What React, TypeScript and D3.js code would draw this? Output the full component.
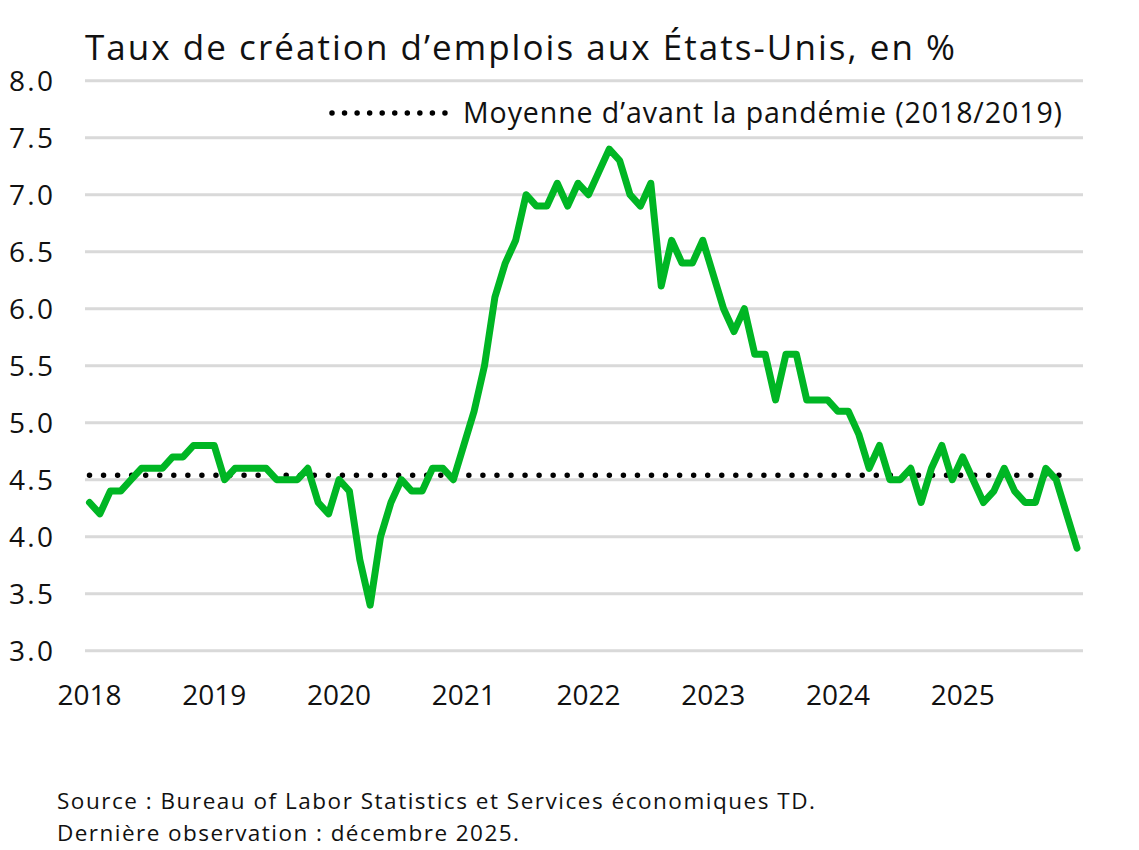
import React from "react";
import * as d3 from "d3";

const startYear = 2018;
const values: number[] = [
  // 2018
  4.3, 4.2, 4.4, 4.4, 4.5, 4.6, 4.6, 4.6, 4.7, 4.7, 4.8, 4.8,
  // 2019
  4.8, 4.5, 4.6, 4.6, 4.6, 4.6, 4.5, 4.5, 4.5, 4.6, 4.3, 4.2,
  // 2020
  4.5, 4.4, 3.8, 3.4, 4.0, 4.3, 4.5, 4.4, 4.4, 4.6, 4.6, 4.5,
  // 2021
  4.8, 5.1, 5.5, 6.1, 6.4, 6.6, 7.0, 6.9, 6.9, 7.1, 6.9, 7.1,
  // 2022
  7.0, 7.2, 7.4, 7.3, 7.0, 6.9, 7.1, 6.2, 6.6, 6.4, 6.4, 6.6,
  // 2023
  6.3, 6.0, 5.8, 6.0, 5.6, 5.6, 5.2, 5.6, 5.6, 5.2, 5.2, 5.2,
  // 2024
  5.1, 5.1, 4.9, 4.6, 4.8, 4.5, 4.5, 4.6, 4.3, 4.6, 4.8, 4.5,
  // 2025
  4.7, 4.5, 4.3, 4.4, 4.6, 4.4, 4.3, 4.3, 4.6, 4.5, 4.2, 3.9,
];
const prePandemicAverage = 4.54;
const yTicks = [3.0, 3.5, 4.0, 4.5, 5.0, 5.5, 6.0, 6.5, 7.0, 7.5, 8.0];
const yearLabels = ["2018", "2019", "2020", "2021", "2022", "2023", "2024", "2025"];

const title = "Taux de création d’emplois aux États-Unis, en %";
const legendLabel = "Moyenne d’avant la pandémie (2018/2019)";
const sourceLines = [
  "Source : Bureau of Labor Statistics et Services économiques TD.",
  "Dernière observation : décembre 2025.",
];
const sourceWidths = [758, 462];

const FONT = "'Open Sans', Lato, sans-serif";
const GREEN = "#00B624";
const TEXT = "#111";

export default function App() {
  const W = 1139;
  const H = 850;
  const x = d3.scaleLinear().domain([0, values.length - 1]).range([89.5, 1077]);
  const y = d3.scaleLinear().domain([3, 8]).range([650.7, 80.7]);
  const line = d3
    .line<number>()
    .x((_, i) => x(i))
    .y((d) => y(d));

  return (
    <svg
      width={W}
      height={H}
      style={{ position: "absolute", left: 0, top: 0, background: "#fff" }}
      fontFamily={FONT}
    >
      <rect width={W} height={H} fill="#fff" />
      <text x={85} y={60} fontSize={35} fill={TEXT} textLength={870} lengthAdjust="spacing">
        {title}
      </text>
      {yTicks.map((t) => (
        <g key={t}>
          <line x1={85} x2={1083} y1={y(t)} y2={y(t)} stroke="#d9d9d9" strokeWidth={3} />
          <text
            x={53}
            y={y(t)}
            dy="0.36em"
            fontSize={28}
            textAnchor="end"
            fill={TEXT}
            textLength={44}
            lengthAdjust="spacing"
          >
            {t.toFixed(1)}
          </text>
        </g>
      ))}
      {yearLabels.map((lab, i) => (
        <text key={lab} x={x(i * 12)} y={705} fontSize={28} textAnchor="middle" fill={TEXT}>
          {lab}
        </text>
      ))}
      <line
        x1={x(0)}
        x2={x(values.length - 1) - 5}
        y1={y(prePandemicAverage)}
        y2={y(prePandemicAverage)}
        stroke="#000"
        strokeWidth={5.5}
        strokeLinecap="round"
        strokeDasharray="0 14.05"
      />
      <path
        d={line(values) || ""}
        fill="none"
        stroke={GREEN}
        strokeWidth={7}
        strokeLinejoin="round"
        strokeLinecap="round"
      />
      <line
        x1={332}
        x2={445}
        y1={113}
        y2={113}
        stroke="#000"
        strokeWidth={5.5}
        strokeLinecap="round"
        strokeDasharray="0 12.55"
      />
      <text x={463} y={113} dy="0.36em" fontSize={28.5} fill={TEXT} textLength={599} lengthAdjust="spacing">
        {legendLabel}
      </text>
      {sourceLines.map((s, i) => (
        <text
          key={i}
          x={57}
          y={809 + i * 32}
          fontSize={22.5}
          fill={TEXT}
          textLength={sourceWidths[i]}
          lengthAdjust="spacing"
        >
          {s}
        </text>
      ))}
    </svg>
  );
}
